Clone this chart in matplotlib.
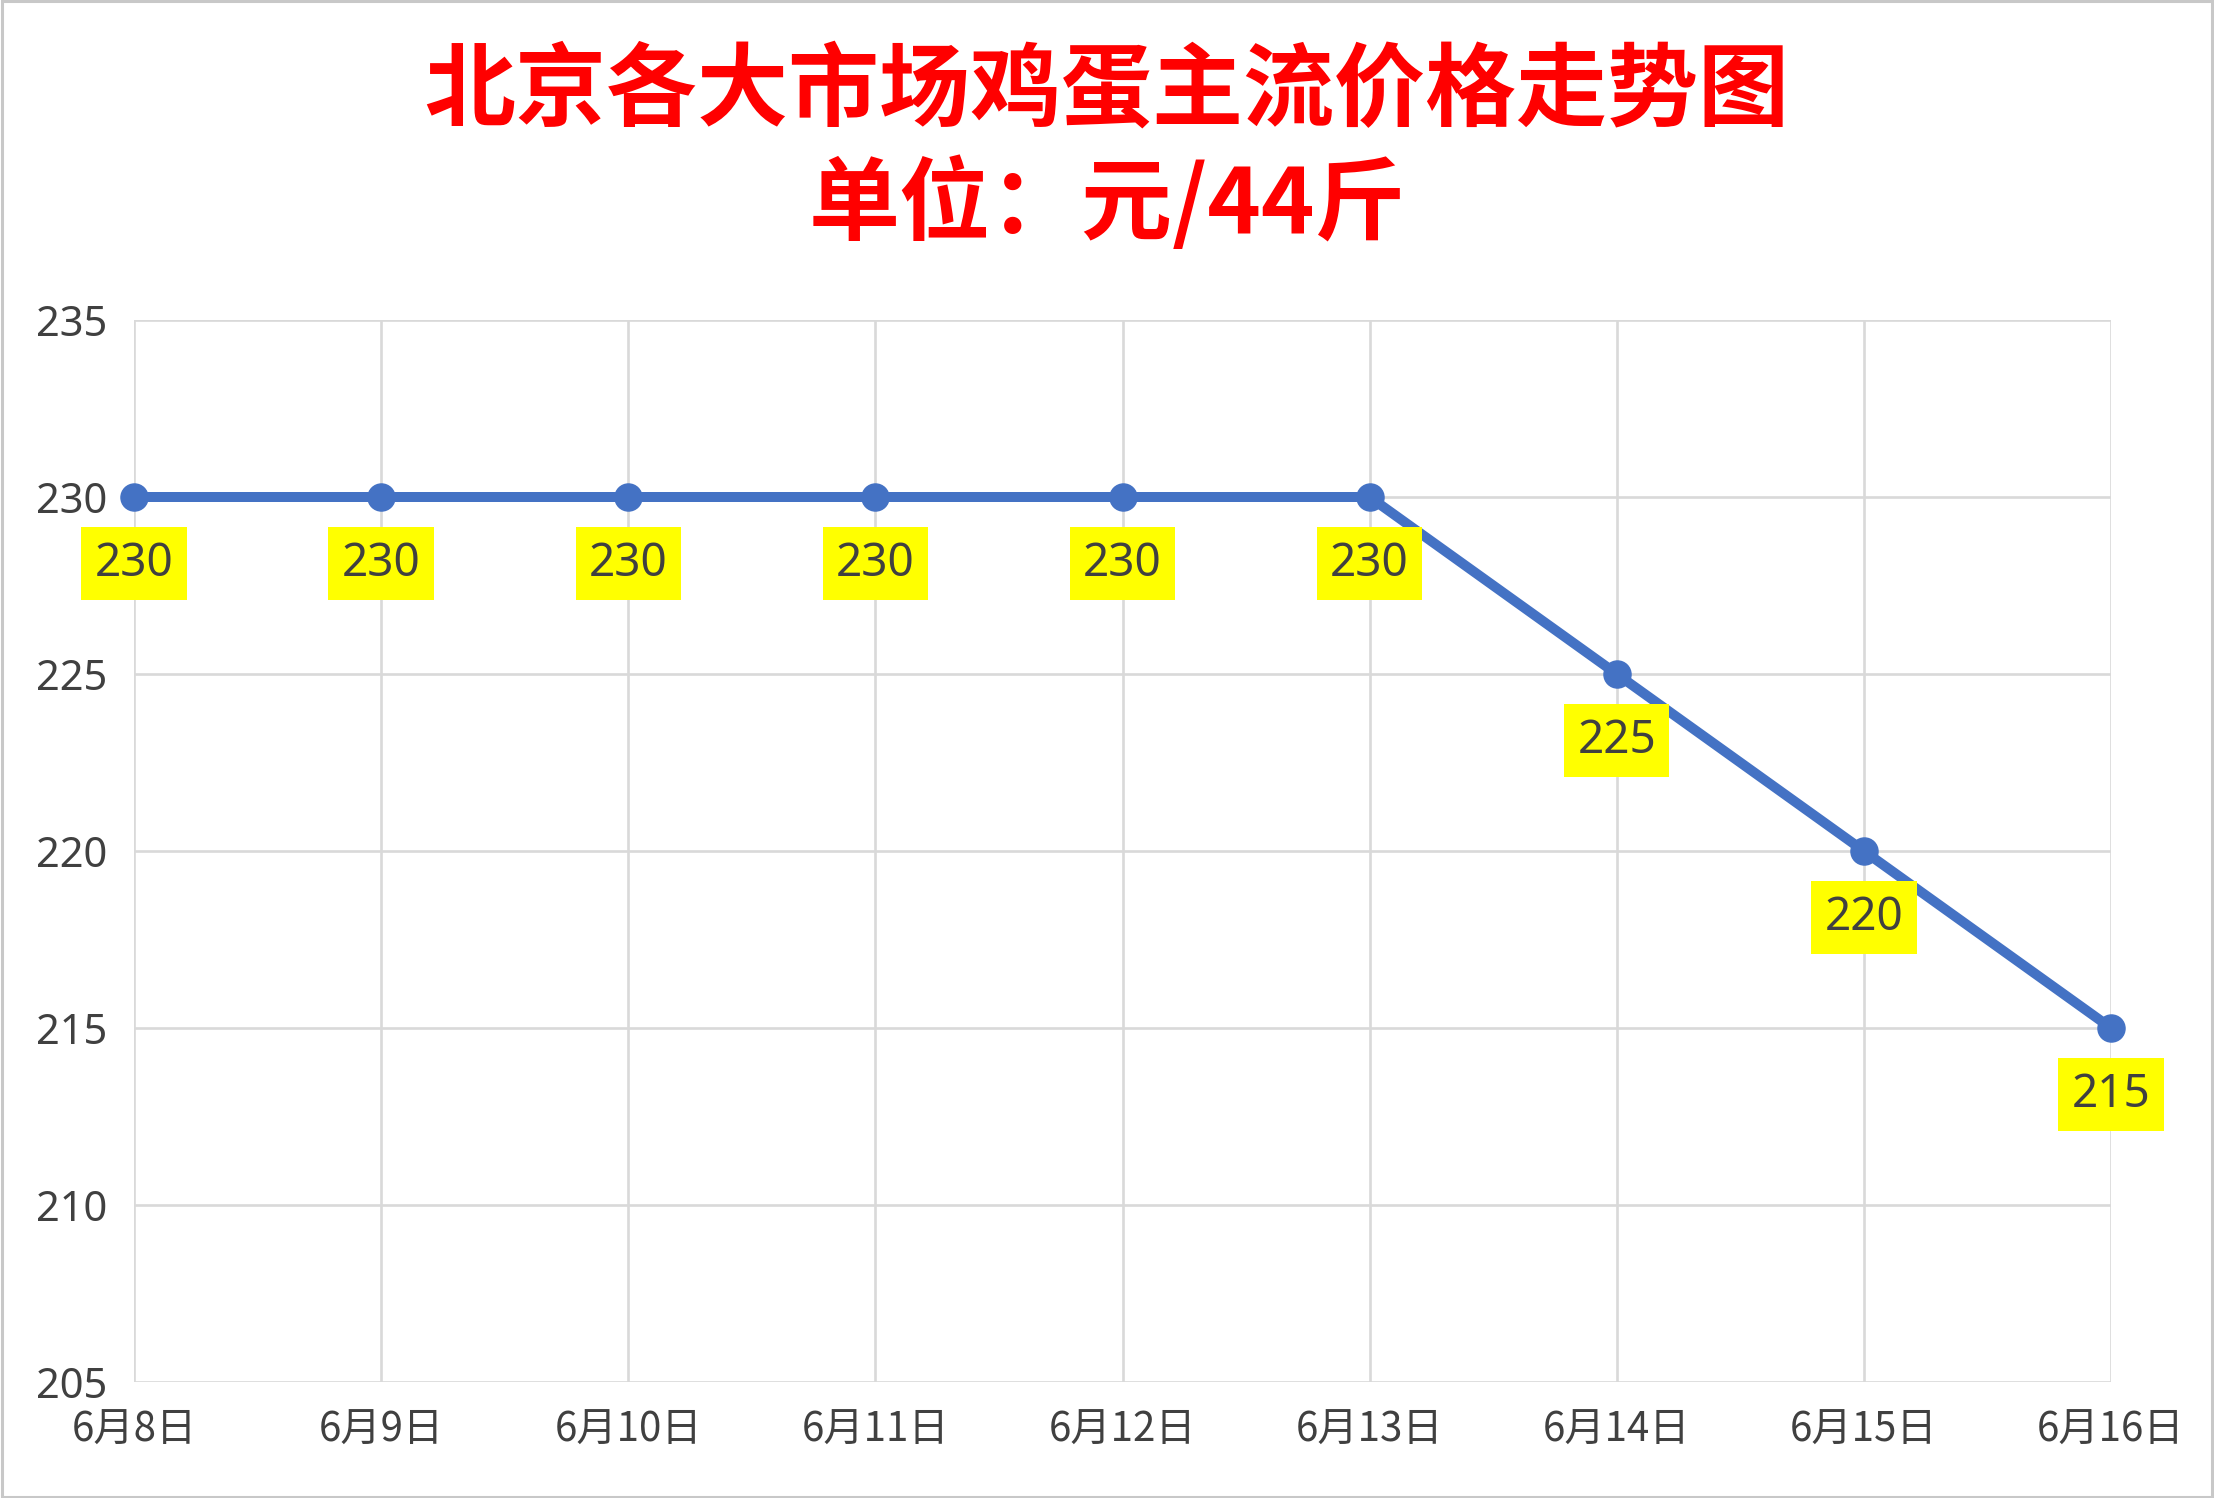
"""
Beijing egg price line chart
"""
import matplotlib
matplotlib.use("Agg")
import matplotlib.pyplot as plt
from matplotlib.patches import Rectangle

# data
dates = ['6月8日', '6月9日', '6月10日', '6月11日', '6月12日',
         '6月13日', '6月14日', '6月15日', '6月16日']
prices = [230, 230, 230, 230, 230, 230, 225, 220, 215]
y_ticks = [205, 210, 215, 220, 225, 230, 235]

title_1 = '北京各大市场鸡蛋主流价格走势图'
title_2 = '单位：元/44斤'

CJK = ['Noto Sans CJK SC', 'DejaVu Sans']
NUM = ['Noto Sans', 'DejaVu Sans']
TEXT_COLOR = '#404040'


def graph():
    fig = plt.figure(figsize=(22.14, 14.98), dpi=100)
    ax = fig.add_axes([134 / 2214, 1 - 1382 / 1498, (2111 - 134) / 2214, (1382 - 320) / 1498])

    x = list(range(len(dates)))
    ax.plot(x, prices, color='#4472C4', linewidth=7.2, marker='o',
            markersize=19.5, clip_on=False, zorder=3)

    # yellow value labels under each point
    for xi, p in zip(x, prices):
        ax.annotate(str(p), xy=(xi, p), xytext=(0, -48), textcoords='offset points',
                    ha='center', va='center', fontsize=33, family=NUM, color=TEXT_COLOR,
                    bbox=dict(boxstyle='square,pad=0.29', facecolor='#FFFF00', edgecolor='none'),
                    zorder=4)

    ax.set_xlim(0, len(dates) - 1)
    ax.set_ylim(205, 235)
    ax.set_xticks(x)
    ax.set_xticklabels(dates, family=CJK, fontsize=29, color=TEXT_COLOR)
    ax.set_yticks(y_ticks)
    ax.set_yticklabels([str(v) for v in y_ticks], family=NUM, fontsize=30, color=TEXT_COLOR)
    ax.tick_params(axis='x', length=0, pad=20)
    ax.tick_params(axis='y', length=0, pad=19)

    ax.grid(True, color='#d9d9d9', linewidth=1.9)
    ax.set_axisbelow(True)
    for s in ax.spines.values():
        s.set_visible(False)

    fig.text(0.5, 1 - 92 / 1498, title_1, ha='center', va='center', fontsize=65.5,
             fontweight='bold', family=CJK, color='#FF0000')
    fig.text(0.5, 1 - 205 / 1498, title_2, ha='center', va='center', fontsize=65.5,
             fontweight='bold', family=CJK, color='#FF0000')

    # thin grey frame round the chart
    fig.patches.append(Rectangle((0.001, 0.001), 0.998, 0.998, transform=fig.transFigure,
                                 fill=False, edgecolor='#c8c8c8', linewidth=2.2))

    fig.savefig('out.png', dpi=100, facecolor='white')


if __name__ == '__main__':
    graph()
